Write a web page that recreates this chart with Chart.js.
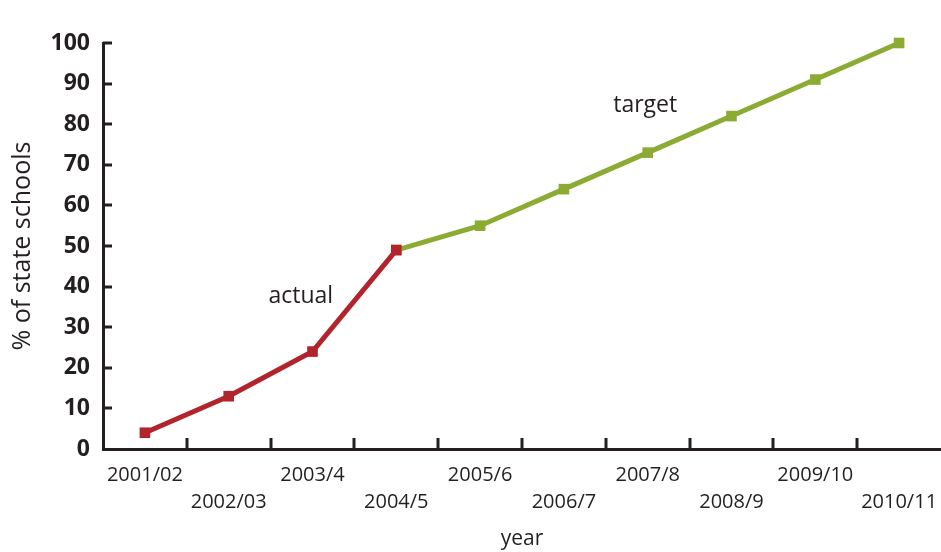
<!DOCTYPE html>
<html>
<head>
<meta charset="utf-8">
<script src="https://cdn.jsdelivr.net/npm/chart.js@4/dist/chart.umd.min.js"></script>
<style>
html,body{margin:0;padding:0;background:#fff;}
#wrap{width:941px;height:552px;}
</style>
</head>
<body>
<div id="wrap"><canvas id="c" width="941" height="552"></canvas></div>
<script>
const years = ['2001/02','2002/03','2003/4','2004/5','2005/6','2006/7','2007/8','2008/9','2009/10','2010/11'];
const actualValues = [4, 13, 24, 49, null, null, null, null, null, null];
const targetValues = [null, null, null, 49, 55, 64, 73, 82, 91, 100];
const yTicks = [0,10,20,30,40,50,60,70,80,90,100];
const annotations = [
  {text: 'actual', xIndex: 1.86, yValue: 37.5},
  {text: 'target', xIndex: 5.97, yValue: 84.5}
];

const AXIS = '#231f20';
const FONT = "'Open Sans', 'Noto Sans', sans-serif";

const extras = {
  id: 'extras',
  afterDraw(chart) {
    const ctx = chart.ctx;
    const xs = chart.scales.x, ys = chart.scales.y;
    const area = chart.chartArea;
    ctx.save();
    ctx.strokeStyle = AXIS;
    ctx.lineWidth = 3;
    ys.ticks.forEach(t => {
      if (t.value === 0) return;
      const y = Math.round(ys.getPixelForValue(t.value));
      ctx.beginPath();
      ctx.moveTo(area.left, y);
      ctx.lineTo(area.left + 9, y);
      ctx.stroke();
    });
    for (let i = 0; i < years.length - 1; i++) {
      const x = Math.round((xs.getPixelForValue(i) + xs.getPixelForValue(i + 1)) / 2);
      ctx.beginPath();
      ctx.moveTo(x, area.bottom);
      ctx.lineTo(x, area.bottom - 11);
      ctx.stroke();
    }
    ctx.fillStyle = '#231f20';
    ctx.font = "23px " + FONT;
    ctx.textAlign = 'center';
    ctx.textBaseline = 'middle';
    annotations.forEach(a => {
      const i0 = Math.floor(a.xIndex);
      const x0 = xs.getPixelForValue(i0);
      const x1 = xs.getPixelForValue(i0 + 1);
      const x = x0 + (x1 - x0) * (a.xIndex - i0);
      ctx.fillText(a.text, x, ys.getPixelForValue(a.yValue));
    });
    ctx.restore();
  }
};

new Chart(document.getElementById('c'), {
  type: 'line',
  data: {
    labels: years,
    datasets: [
      {
        label: 'actual',
        data: actualValues,
        borderColor: '#b2232b',
        backgroundColor: '#b2232b',
        borderWidth: 5,
        pointStyle: 'rect',
        pointRadius: 7.5,
        pointBorderWidth: 0,
        tension: 0,
        clip: false
      },
      {
        label: 'target',
        data: targetValues,
        borderColor: '#8bab33',
        backgroundColor: '#8bab33',
        borderWidth: 5,
        pointStyle: 'rect',
        pointRadius: 7.5,
        pointBorderWidth: 0,
        tension: 0,
        clip: false
      }
    ]
  },
  options: {
    responsive: false,
    animation: false,
    layout: {autoPadding: false, padding: {top: 43, right: 0, bottom: 0, left: 0}},
    plugins: {legend: {display: false}, tooltip: {enabled: false}},
    scales: {
      x: {
        type: 'category',
        offset: true,
        afterFit(s) { s.height = 103; s.paddingLeft = 0; s.paddingRight = 0; },
        grid: {display: false, drawTicks: false},
        border: {display: true, color: AXIS, width: 3},
        ticks: {
          autoSkip: false,
          maxRotation: 0,
          minRotation: 0,
          padding: 13,
          color: '#231f20',
          font: {family: FONT, size: 20, lineHeight: 1.35},
          callback(v, i) { return i % 2 === 0 ? years[i] : ['', years[i]]; }
        },
        title: {
          display: true,
          text: 'year',
          color: '#231f20',
          font: {family: FONT, size: 21},
          padding: {top: 0, bottom: 0}
        }
      },
      y: {
        min: 0,
        max: 100,
        afterFit(s) { s.width = 103; s.paddingTop = 0; s.paddingBottom = 0; },
        afterBuildTicks(s) { s.ticks = yTicks.map(v => ({value: v})); },
        grid: {display: false, drawTicks: false},
        border: {display: true, color: AXIS, width: 3},
        ticks: {
          padding: 13,
          color: '#231f20',
          font: {family: FONT, size: 23, weight: 'bold'}
        },
        title: {
          display: true,
          text: '% of state schools',
          color: '#231f20',
          font: {family: FONT, size: 25},
          padding: {top: 8, bottom: 0}
        }
      }
    }
  },
  plugins: [extras]
});
</script>
</body>
</html>
